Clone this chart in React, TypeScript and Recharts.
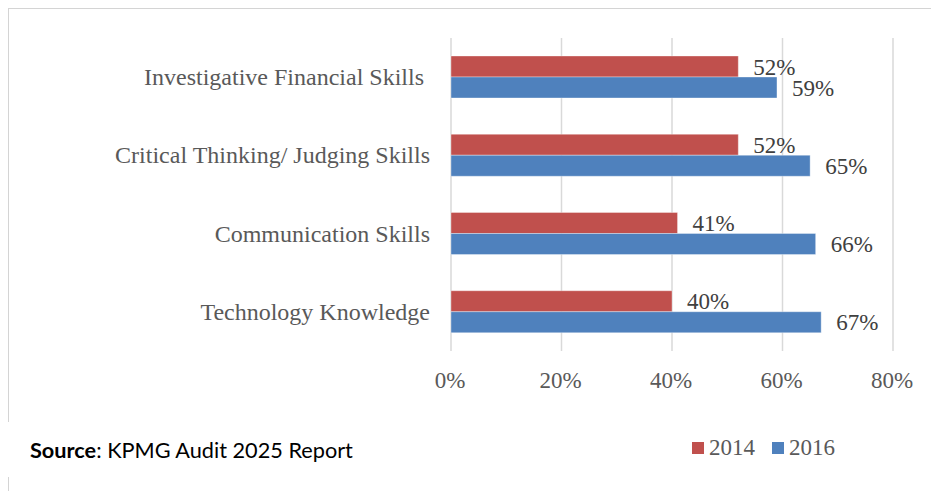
import React from "react";
import {
  BarChart,
  Bar,
  XAxis,
  YAxis,
  CartesianGrid,
  Legend,
  LabelList,
} from "recharts";

const skills = [
  "Investigative Financial Skills ",
  "Critical Thinking/ Judging Skills",
  "Communication Skills",
  "Technology Knowledge",
];
const y2014 = [52, 52, 41, 40];
const y2016 = [59, 65, 66, 67];
const xTicks = [0, 20, 40, 60, 80];

const data = skills.map((skill, i) => ({
  skill,
  y2014: y2014[i],
  y2016: y2016[i],
}));

const SERIF = '"Liberation Serif", "Times New Roman", serif';
const RED = "#C0504D";
const BLUE = "#4F81BD";

function SkillTick({ x, y, payload }: any) {
  return (
    <text
      x={x - 21}
      y={y + 8}
      textAnchor="end"
      xmlSpace="preserve"
      fontFamily={SERIF}
      fontSize={24}
      fill="#595959"
    >
      {payload.value}
    </text>
  );
}

function PctTick({ x, y, payload }: any) {
  return (
    <text
      x={x - 1}
      y={y + 37}
      textAnchor="middle"
      fontFamily={SERIF}
      fontSize={23}
      fill="#595959"
    >
      {payload.value + "%"}
    </text>
  );
}

function LegendBox({ payload }: any) {
  return (
    <div style={{ display: "flex", alignItems: "center", height: 24 }}>
      {(payload || []).map((p: any, i: number) => (
        <div
          key={i}
          style={{
            display: "flex",
            alignItems: "center",
            marginRight: 17,
            fontFamily: SERIF,
            fontSize: 23,
            color: "#595959",
          }}
        >
          <span
            style={{
              display: "inline-block",
              width: 12,
              height: 12,
              background: p.color,
              marginRight: 5,
            }}
          />
          {p.value}
        </div>
      ))}
    </div>
  );
}

export default function App() {
  return (
    <div style={{ position: "relative", width: 931, height: 483 }}>
      <div
        style={{
          position: "absolute",
          left: 0,
          top: 0,
          width: 931,
          height: 483,
          borderTop: "1px solid #D4D4D4",
          borderLeft: "1px solid #D4D4D4",
          boxSizing: "border-box",
        }}
      />
      <BarChart
        width={931}
        height={483}
        data={data}
        layout="vertical"
        margin={{ top: 30, right: 46, bottom: 100, left: 0 }}
        barCategoryGap="23%"
        barGap={0}
      >
        <CartesianGrid
          horizontal={false}
          stroke="#D9D9D9"
          strokeWidth={1.5}
        />
        <XAxis
          type="number"
          domain={[0, 80]}
          ticks={xTicks}
          axisLine={false}
          tickLine={false}
          tickSize={0}
          tickMargin={0}
          height={40}
          tick={<PctTick />}
        />
        <YAxis
          type="category"
          dataKey="skill"
          width={443}
          axisLine={false}
          tickLine={false}
          tickSize={0}
          tickMargin={0}
          tick={<SkillTick />}
        />
        <Legend
          layout="horizontal"
          verticalAlign="middle"
          align="center"
          content={<LegendBox />}
          wrapperStyle={{ left: 684, top: 428, width: 240, height: 24 }}
        />
        <Bar
          dataKey="y2014"
          name="2014"
          fill={RED}
          stroke="rgba(255,255,255,0.35)"
          strokeWidth={1}
          isAnimationActive={false}
        >
          <LabelList
            dataKey="y2014"
            position="right"
            offset={15}
            formatter={(v: any) => v + "%"}
            fontFamily={SERIF}
            fontSize={23}
            fill="#404040"
          />
        </Bar>
        <Bar
          dataKey="y2016"
          name="2016"
          fill={BLUE}
          stroke="rgba(255,255,255,0.35)"
          strokeWidth={1}
          isAnimationActive={false}
        >
          <LabelList
            dataKey="y2016"
            position="right"
            offset={15}
            formatter={(v: any) => v + "%"}
            fontFamily={SERIF}
            fontSize={23}
            fill="#404040"
          />
        </Bar>
      </BarChart>
      <div
        style={{
          position: "absolute",
          left: -2,
          top: 414,
          height: 55,
          width: 400,
          background: "#fff",
          paddingLeft: 24,
          boxSizing: "border-box",
          fontFamily: "Lato, sans-serif",
          fontSize: 21.7,
          lineHeight: "57px",
          color: "#000",
        }}
      >
        <b>Source</b>: KPMG Audit 2025 Report
      </div>
    </div>
  );
}
